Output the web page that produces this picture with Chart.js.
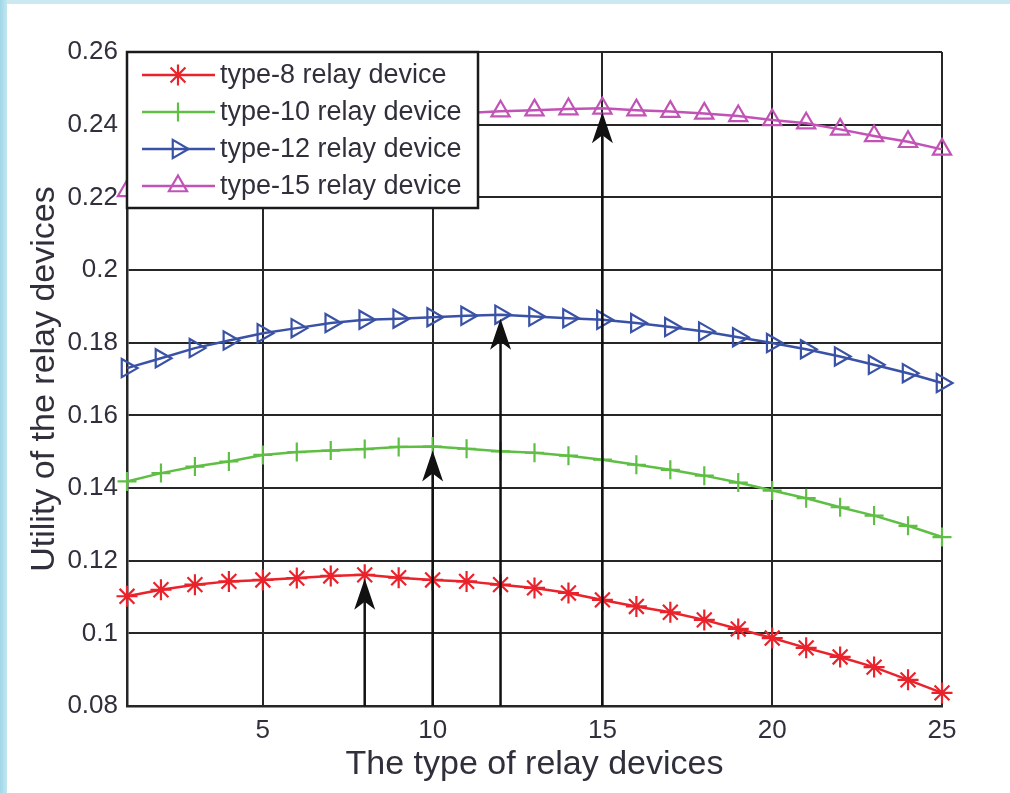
<!DOCTYPE html>
<html>
<head>
<meta charset="utf-8">
<script src="https://cdn.jsdelivr.net/npm/chart.js@4.4.1/dist/chart.umd.min.js"></script>
<style>
  html, body { margin: 0; padding: 0; background: #ffffff; }
  body { width: 1010px; height: 793px; overflow: hidden; position: relative; }
  #plot { position: absolute; left: 0; top: 0; width: 1010px; height: 793px; }
  #edgeTop { position: absolute; left: 0; top: 0; width: 1010px; height: 4px; background: #cce9f2; }
  #edgeLeft { position: absolute; left: 0; top: 0; width: 7px; height: 793px;
              background: linear-gradient(to right, #9fd7e7, #c2e6f0); }
</style>
</head>
<body>
<div id="plot"><canvas id="chart" width="1010" height="793"></canvas></div>
<div id="edgeTop"></div>
<div id="edgeLeft"></div>
<script>
// Relay device types on the x axis
const relayTypes = [1, 2, 3, 4, 5, 6, 7, 8, 9, 10, 11, 12, 13, 14, 15, 16, 17, 18, 19, 20, 21, 22, 23, 24, 25];

// Utility of each relay device type
const type8Utility  = [0.1102, 0.1120, 0.1134, 0.1143, 0.1147, 0.1152, 0.1158, 0.1161, 0.1153, 0.1147,
                       0.1143, 0.1134, 0.1125, 0.1111, 0.1092, 0.1074, 0.1058, 0.1037, 0.1012, 0.0987,
                       0.0960, 0.0935, 0.0907, 0.0872, 0.0836];
const type10Utility = [0.1418, 0.1441, 0.1459, 0.1473, 0.1491, 0.1499, 0.1503, 0.1507, 0.1513, 0.1514,
                       0.1508, 0.1501, 0.1497, 0.1489, 0.1478, 0.1464, 0.1450, 0.1434, 0.1415, 0.1393,
                       0.1372, 0.1347, 0.1324, 0.1296, 0.1265];
const type12Utility = [0.1730, 0.1757, 0.1785, 0.1806, 0.1826, 0.1840, 0.1854, 0.1863, 0.1866, 0.1870,
                       0.1874, 0.1877, 0.1872, 0.1867, 0.1863, 0.1854, 0.1843, 0.1831, 0.1815, 0.1799,
                       0.1782, 0.1762, 0.1739, 0.1716, 0.1689];
const type15Utility = [0.2218, 0.2258, 0.2293, 0.2324, 0.2352, 0.2375, 0.2395, 0.2410, 0.2421, 0.2428,
                       0.2432, 0.2437, 0.2440, 0.2443, 0.2445, 0.2440, 0.2436, 0.2431, 0.2424, 0.2413,
                       0.2404, 0.2387, 0.2369, 0.2353, 0.2332];

const seriesLabels = ['type-8 relay device', 'type-10 relay device', 'type-12 relay device', 'type-15 relay device'];

// Axis ticks
const xTickValues = [5, 10, 15, 20, 25];
const yTickValues = [0.08, 0.10, 0.12, 0.14, 0.16, 0.18, 0.20, 0.22, 0.24, 0.26];
const yTickLabels = ['0.08', '0.1', '0.12', '0.14', '0.16', '0.18', '0.2', '0.22', '0.24', '0.26'];

// Optimal type of each series, marked with an arrow
const optimumTypes = [8, 10, 12, 15];

const axisText = '#30303c';
const gridColor = '#262626';
const fontFamily = '"Liberation Sans", Arial, sans-serif';

const seriesStyles = [
  { color: '#e9222b', pointStyle: 'star',     rotation: 0,  radius: 10.5 },
  { color: '#5fbf45', pointStyle: 'cross',    rotation: 0,  radius: 9.5 },
  { color: '#3a52a6', pointStyle: 'triangle', rotation: 90, radius: 10.5 },
  { color: '#c253b6', pointStyle: 'triangle', rotation: 0,  radius: 10.5 }
];

const seriesValues = [type8Utility, type10Utility, type12Utility, type15Utility];

const datasets = seriesValues.map((vals, i) => {
  const st = seriesStyles[i];
  return {
    label: seriesLabels[i],
    data: relayTypes.map((t, k) => ({ x: t, y: vals[k] })),
    borderColor: st.color,
    borderWidth: 2.5,
    pointStyle: st.pointStyle,
    pointRotation: st.rotation,
    pointRadius: st.radius,
    pointBorderWidth: 2.2,
    pointBorderColor: st.color,
    pointBackgroundColor: 'rgba(0,0,0,0)',
    tension: 0,
    clip: false
  };
});

function drawMarker(ctx, st, x, y) {
  ctx.save();
  ctx.strokeStyle = st.color;
  ctx.fillStyle = 'rgba(0,0,0,0)';
  ctx.lineWidth = 2.2;
  Chart.helpers.drawPoint(ctx, { pointStyle: st.pointStyle, rotation: st.rotation, radius: st.radius, borderWidth: 2.2 }, x, y);
  ctx.restore();
}

// Arrows pointing at each optimum, then the boxed legend on top
const overlayPlugin = {
  id: 'overlay',
  afterDatasetsDraw(chart) {
    const { ctx, chartArea, scales } = chart;
    const xs = scales.x, ys = scales.y;

    // arrows
    optimumTypes.forEach((t, i) => {
      const k = relayTypes.indexOf(t);
      const px = xs.getPixelForValue(t);
      const yBase = ys.getPixelForValue(ys.min);
      const yTip = ys.getPixelForValue(seriesValues[i][k]) + 4;
      const headLen = 31, headHalf = 10.5, notch = 8;
      ctx.save();
      ctx.strokeStyle = '#111111';
      ctx.fillStyle = '#111111';
      ctx.lineWidth = 2.5;
      ctx.beginPath();
      ctx.moveTo(px, yBase);
      ctx.lineTo(px, yTip + headLen - notch);
      ctx.stroke();
      ctx.beginPath();
      ctx.moveTo(px, yTip);
      ctx.lineTo(px + headHalf, yTip + headLen);
      ctx.lineTo(px, yTip + headLen - notch);
      ctx.lineTo(px - headHalf, yTip + headLen);
      ctx.closePath();
      ctx.fill();
      ctx.restore();
    });

    // legend box
    const lx = chartArea.left, ly = chartArea.top;
    const lw = 351, lh = 156;
    ctx.save();
    ctx.fillStyle = '#ffffff';
    ctx.fillRect(lx, ly, lw, lh);
    ctx.strokeStyle = '#1a1a1a';
    ctx.lineWidth = 2.5;
    ctx.strokeRect(lx, ly, lw, lh);
    ctx.font = '27px ' + fontFamily;
    ctx.textBaseline = 'middle';
    ctx.textAlign = 'left';
    seriesLabels.forEach((label, i) => {
      const st = seriesStyles[i];
      const ry = ly + 23 + i * 37;
      ctx.strokeStyle = st.color;
      ctx.lineWidth = 2.5;
      ctx.beginPath();
      ctx.moveTo(lx + 15, ry);
      ctx.lineTo(lx + 88, ry);
      ctx.stroke();
      drawMarker(ctx, st, lx + 51, ry);
      ctx.fillStyle = axisText;
      ctx.fillText(label, lx + 93, ry + 1);
    });
    ctx.restore();
  }
};

new Chart(document.getElementById('chart'), {
  type: 'line',
  data: { datasets },
  plugins: [overlayPlugin],
  options: {
    responsive: false,
    animation: false,
    devicePixelRatio: 1,
    layout: { padding: { left: 0, top: 52, right: 68, bottom: 0 } },
    plugins: { legend: { display: false }, tooltip: { enabled: false } },
    scales: {
      x: {
        type: 'linear',
        min: 1,
        max: 25,
        afterBuildTicks: s => { s.ticks = xTickValues.map(v => ({ value: v })); },
        afterFit: s => { s.height = 87; },
        ticks: {
          color: axisText,
          font: { family: fontFamily, size: 26 },
          padding: 9,
          maxRotation: 0
        },
        grid: { color: gridColor, lineWidth: 2, drawTicks: false },
        border: { display: true, color: gridColor, width: 2.5 },
        title: {
          display: true,
          text: 'The type of relay devices',
          color: axisText,
          font: { family: fontFamily, size: 34, lineHeight: 1 },
          padding: { top: 0, bottom: 11 }
        }
      },
      y: {
        type: 'linear',
        min: 0.08,
        max: 0.26,
        afterBuildTicks: s => { s.ticks = yTickValues.map(v => ({ value: v })); },
        afterFit: s => { s.width = 127; },
        ticks: {
          color: axisText,
          font: { family: fontFamily, size: 26 },
          padding: 9,
          callback: (v, i) => yTickLabels[i]
        },
        grid: { color: gridColor, lineWidth: 2, drawTicks: false },
        border: { display: true, color: gridColor, width: 2.5 },
        title: {
          display: true,
          text: 'Utility of the relay devices',
          color: axisText,
          font: { family: fontFamily, size: 34, lineHeight: 1 },
          padding: { top: 28, bottom: 0 }
        }
      }
    }
  }
});
</script>
</body>
</html>
